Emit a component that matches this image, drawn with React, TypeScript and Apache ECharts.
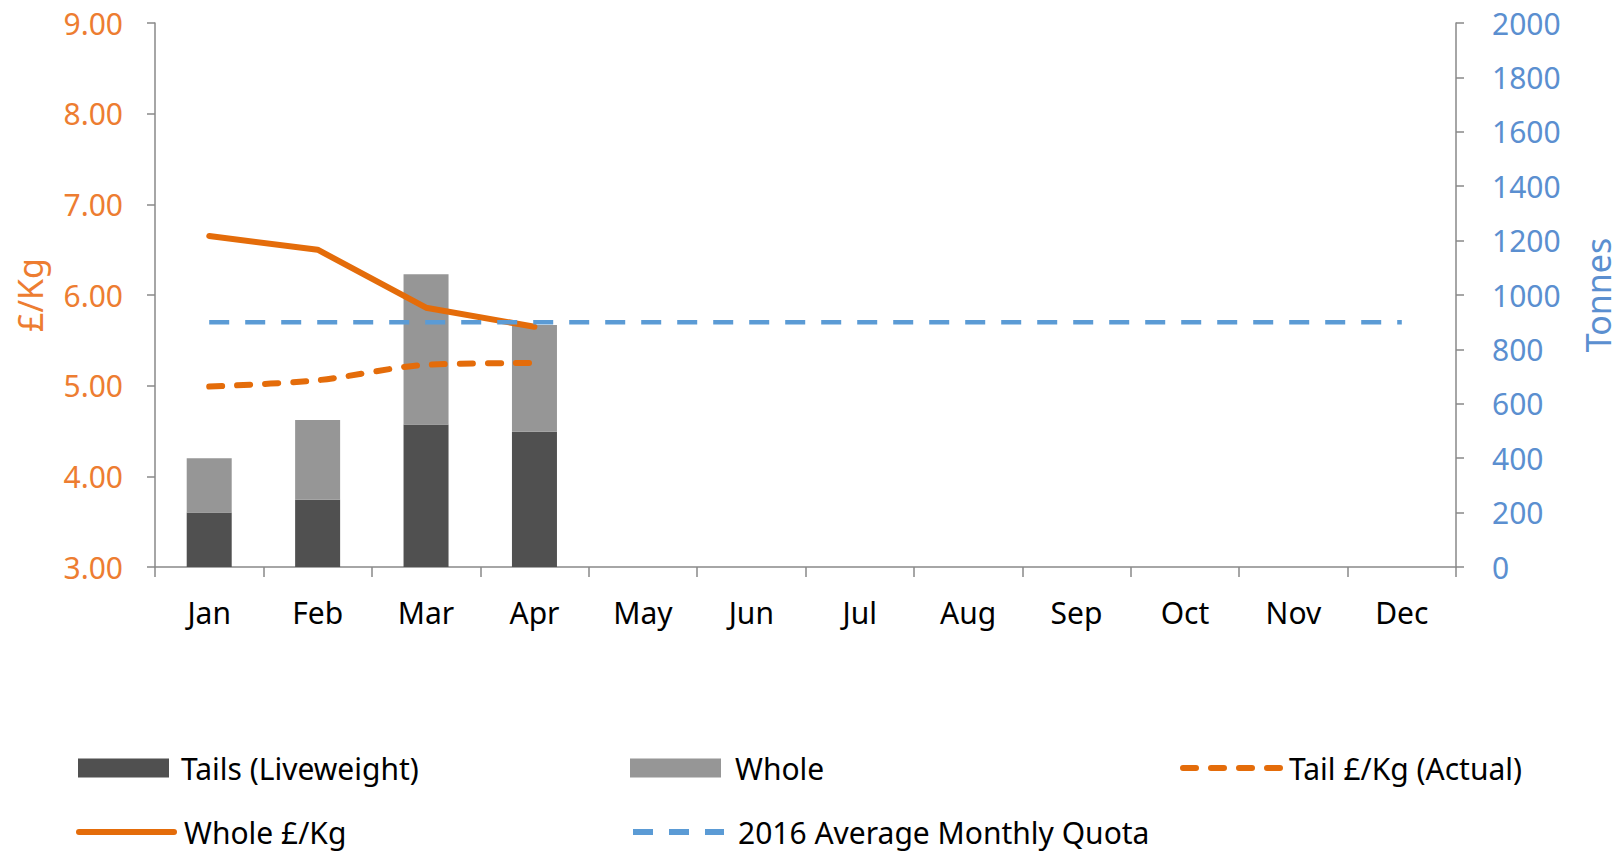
import React, { useEffect, useRef } from "react";
import * as echarts from "echarts";

const months = ["Jan", "Feb", "Mar", "Apr", "May", "Jun", "Jul", "Aug", "Sep", "Oct", "Nov", "Dec"];
const tailsTonnes = [200, 247, 524, 497, null, null, null, null, null, null, null, null];
const wholeTonnes = [200, 293, 552, 393, null, null, null, null, null, null, null, null];
const tailPrice = [4.99, 5.06, 5.23, 5.25, null, null, null, null, null, null, null, null];
const wholePrice = [6.65, 6.5, 5.86, 5.65, null, null, null, null, null, null, null, null];
const quota = [900, 900, 900, 900, 900, 900, 900, 900, 900, 900, 900, 900];

const FONT = "Noto Sans";
const ORANGE_TXT = "#ED7D31";
const ORANGE = "#E46C0A";
const BLUE_TXT = "#5B8FD0";
const BLUE = "#5B9BD5";
const AXIS = "#898989";

export default function App() {
  const ref = useRef<HTMLDivElement>(null);
  useEffect(() => {
    const chart = echarts.init(ref.current!, null, { renderer: "svg" });
    const legendBase = (
      name: string,
      left: number,
      top: number,
      iw: number,
      ih: number,
      gap: number,
      isLine: boolean
    ) => ({
      data: [name],
      left,
      top,
      padding: 0,
      itemWidth: iw,
      itemHeight: ih,
      selectedMode: false,
      ...(isLine ? { itemStyle: { opacity: 0 }, lineStyle: { width: 6 } } : { icon: "rect" }),
      textStyle: { fontFamily: FONT, fontSize: 30, color: "#000", padding: [0, 0, 0, gap], lineHeight: 32 },
    });
    chart.setOption({
      animation: false,
      grid: { left: 155, right: 164, top: 23, bottom: 287, containLabel: false },
      legend: [
        legendBase("Tails (Liveweight)", 78, 752, 91, 19, 7, false),
        legendBase("Whole", 630, 752, 91, 19, 9, false),
        legendBase("Tail £/Kg (Actual)", 1180, 752, 98, 19, 3, true),
        legendBase("Whole £/Kg", 76, 816, 95, 19, 5, true),
        legendBase("2016 Average Monthly Quota", 630, 816, 91, 19, 9, true),
      ],
      xAxis: {
        type: "category",
        data: months,
        boundaryGap: true,
        axisLine: { lineStyle: { color: AXIS, width: 1.5 } },
        axisTick: { show: true, length: 10, alignWithLabel: false, lineStyle: { color: AXIS, width: 1.5 } },
        axisLabel: { fontFamily: FONT, fontSize: 30, color: "#000", margin: 30 },
      },
      yAxis: [
        {
          type: "value",
          min: 3,
          max: 9,
          interval: 1,
          name: "£/Kg",
          nameLocation: "middle",
          nameGap: 108,
          nameRotate: 90,
          nameTextStyle: { fontFamily: FONT, fontSize: 34, color: ORANGE_TXT },
          axisLine: { show: true, lineStyle: { color: AXIS, width: 1.5 } },
          axisTick: { show: true, length: 8, lineStyle: { color: AXIS, width: 1.5 } },
          splitLine: { show: false },
          axisLabel: {
            fontFamily: FONT,
            fontSize: 30,
            color: ORANGE_TXT,
            margin: 32,
            formatter: (v: number) => v.toFixed(2),
          },
        },
        {
          type: "value",
          min: 0,
          max: 2000,
          interval: 200,
          position: "right",
          name: "Tonnes",
          nameLocation: "middle",
          nameGap: 125,
          nameRotate: 90,
          nameTextStyle: { fontFamily: FONT, fontSize: 34, color: BLUE_TXT },
          axisLine: { show: true, lineStyle: { color: AXIS, width: 1.5 } },
          axisTick: { show: true, length: 8, lineStyle: { color: AXIS, width: 1.5 } },
          splitLine: { show: false },
          axisLabel: {
            fontFamily: FONT,
            fontSize: 30,
            color: BLUE_TXT,
            margin: 36,
            formatter: (v: number) => String(v),
          },
        },
      ],
      series: [
        {
          name: "Tails (Liveweight)",
          type: "bar",
          stack: "t",
          yAxisIndex: 1,
          barWidth: 45,
          data: tailsTonnes,
          itemStyle: { color: "#505050" },
        },
        {
          name: "Whole",
          type: "bar",
          stack: "t",
          yAxisIndex: 1,
          barWidth: 45,
          data: wholeTonnes,
          itemStyle: { color: "#969696" },
        },
        {
          name: "Tail £/Kg (Actual)",
          type: "line",
          yAxisIndex: 0,
          data: tailPrice,
          smooth: 0.3,
          symbol: "none",
          itemStyle: { color: ORANGE },
          lineStyle: { color: ORANGE, width: 6, type: [13, 15], cap: "round" },
        },
        {
          name: "Whole £/Kg",
          type: "line",
          yAxisIndex: 0,
          data: wholePrice,
          symbol: "none",
          itemStyle: { color: ORANGE },
          lineStyle: { color: ORANGE, width: 6, join: "round", cap: "round" },
        },
        {
          name: "2016 Average Monthly Quota",
          type: "line",
          yAxisIndex: 1,
          data: quota,
          symbol: "none",
          itemStyle: { color: BLUE },
          lineStyle: { color: BLUE, width: 4.5, type: [20, 16] },
        },
      ],
    });
    return () => chart.dispose();
  }, []);
  return (
    <div
      ref={ref}
      style={{ position: "fixed", left: 0, top: 0, width: 1623, height: 854, background: "#fff" }}
    />
  );
}
